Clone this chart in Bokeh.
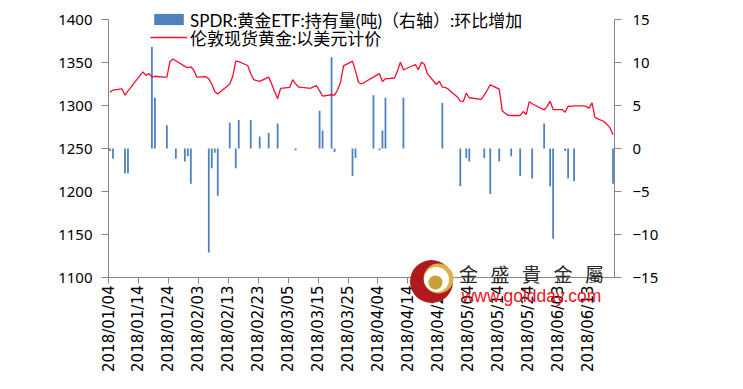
import numpy as np
import pandas as pd
from bokeh.plotting import figure
from bokeh.core.properties import value
from bokeh.models import (ColumnDataSource, Range1d, LinearAxis, FixedTicker,
                          DatetimeTickFormatter, Legend, LegendItem)
from bokeh.embed import file_html
from bokeh.resources import INLINE

# ---------------- data ----------------
gold_dates = [
    "2018-01-04", "2018-01-05", "2018-01-08", "2018-01-09", "2018-01-10", "2018-01-11", "2018-01-12",
    "2018-01-15", "2018-01-16", "2018-01-17", "2018-01-18", "2018-01-19", "2018-01-22", "2018-01-23",
    "2018-01-24", "2018-01-25", "2018-01-26", "2018-01-29", "2018-01-30", "2018-01-31",
    "2018-02-01", "2018-02-02", "2018-02-05", "2018-02-06", "2018-02-07", "2018-02-08", "2018-02-09",
    "2018-02-12", "2018-02-13", "2018-02-14", "2018-02-15", "2018-02-16", "2018-02-19", "2018-02-20",
    "2018-02-21", "2018-02-22", "2018-02-23", "2018-02-26", "2018-02-27", "2018-02-28",
    "2018-03-01", "2018-03-02", "2018-03-05", "2018-03-06", "2018-03-07", "2018-03-08", "2018-03-09",
    "2018-03-12", "2018-03-13", "2018-03-14", "2018-03-15", "2018-03-16", "2018-03-19", "2018-03-20",
    "2018-03-21", "2018-03-22", "2018-03-23", "2018-03-26", "2018-03-27", "2018-03-28", "2018-03-29",
    "2018-04-03", "2018-04-04", "2018-04-05", "2018-04-06", "2018-04-09", "2018-04-10", "2018-04-11",
    "2018-04-12", "2018-04-13", "2018-04-16", "2018-04-17", "2018-04-18", "2018-04-19", "2018-04-20",
    "2018-04-23", "2018-04-24", "2018-04-25", "2018-04-26", "2018-04-27", "2018-04-30",
    "2018-05-01", "2018-05-02", "2018-05-03", "2018-05-04", "2018-05-08", "2018-05-09", "2018-05-10",
    "2018-05-11", "2018-05-14", "2018-05-15", "2018-05-16", "2018-05-17", "2018-05-18", "2018-05-21",
    "2018-05-22", "2018-05-23", "2018-05-24", "2018-05-25", "2018-05-29", "2018-05-30", "2018-05-31",
    "2018-06-01", "2018-06-04", "2018-06-05", "2018-06-06", "2018-06-07", "2018-06-08", "2018-06-11",
    "2018-06-12", "2018-06-13", "2018-06-14", "2018-06-15", "2018-06-18", "2018-06-19", "2018-06-20",
    "2018-06-21",
]
gold_price = [
    1315.5, 1318, 1319.4, 1312, 1317, 1321, 1326,
    1339, 1335, 1337, 1333, 1334, 1333, 1333,
    1351, 1354, 1352, 1345.5, 1344, 1345,
    1341, 1333, 1333.5, 1331, 1325, 1316, 1313.5,
    1322, 1325, 1334, 1351.6, 1351, 1346.5, 1337,
    1330, 1329, 1328, 1333, 1325, 1316,
    1308, 1320, 1321, 1330, 1325, 1321.5, 1321,
    1320, 1322, 1323, 1317, 1311, 1312.5, 1312,
    1318, 1327, 1346, 1351.6, 1340, 1327, 1325,
    1335, 1337, 1328, 1331, 1332, 1340, 1350.4,
    1341.5, 1343, 1347.7, 1341.5, 1350.4, 1348, 1337,
    1324.4, 1328.3, 1321.3, 1321, 1319, 1310,
    1305, 1304.7, 1314.3, 1309, 1307, 1312, 1318,
    1324, 1319, 1294, 1291, 1288.5, 1288.4, 1288.4,
    1293, 1289.5, 1304.3, 1302, 1295, 1299, 1305,
    1295.3, 1295.3, 1292.2, 1299.2, 1299, 1299.5, 1299.6,
    1299, 1297, 1303, 1286, 1281.4, 1278, 1274,
    1266,
]

etf_dates = [
    "2018-01-04", "2018-01-05", "2018-01-09", "2018-01-10", "2018-01-18", "2018-01-19", "2018-01-23",
    "2018-01-26", "2018-01-29", "2018-01-30", "2018-01-31", "2018-02-06", "2018-02-07", "2018-02-08",
    "2018-02-09", "2018-02-13", "2018-02-15", "2018-02-16", "2018-02-20", "2018-02-23", "2018-02-26",
    "2018-03-01", "2018-03-07", "2018-03-15", "2018-03-16", "2018-03-19", "2018-03-20", "2018-03-26",
    "2018-03-27", "2018-04-02", "2018-04-04", "2018-04-05", "2018-04-06", "2018-04-12", "2018-04-25",
    "2018-05-01", "2018-05-03", "2018-05-04", "2018-05-09", "2018-05-11", "2018-05-14", "2018-05-18",
    "2018-05-21", "2018-05-25", "2018-05-29", "2018-05-31", "2018-06-01", "2018-06-05", "2018-06-06",
    "2018-06-08", "2018-06-21",
]
etf_change = [
    -0.3, -1.2, -2.9, -2.9, 11.8, 5.9, 2.7,
    -1.2, -1.5, -0.9, -4.1, -12.1, -2.3, -0.5,
    -5.5, 3.0, -2.3, 3.3, 3.3, 1.4, 1.8,
    2.9, -0.2, 4.4, 2.1, 10.6, -0.4, -3.2,
    -1.1, 6.2, -0.2, 2.1, 5.9, 5.9, 5.3,
    -4.4, -1.1, -1.5, -1.1, -5.3, -1.5, -0.9,
    -3.2, -3.5, 2.9, -4.4, -10.5, -0.3, -3.5,
    -3.8, -4.1,
]

tick_dates = ["2018-01-04", "2018-01-14", "2018-01-24", "2018-02-03", "2018-02-13", "2018-02-23",
              "2018-03-05", "2018-03-15", "2018-03-25", "2018-04-04", "2018-04-14", "2018-04-24",
              "2018-05-04", "2018-05-14", "2018-05-24", "2018-06-03", "2018-06-13"]
left_ticks = [1100, 1150, 1200, 1250, 1300, 1350, 1400]
right_ticks = [-15, -10, -5, 0, 5, 10, 15]

label_bar = "SPDR:黄金ETF:持有量(吨)（右轴）:环比增加"
label_line = "伦敦现货黄金:以美元计价"
brand_chars = list("金盛貴金屬")
brand_url = ["www.goldday.com"]

# ---------------- layout constants (pixels) ----------------
W, H = 743, 389
FRAME_L, FRAME_R = 108, 614
FRAME_T, FRAME_B = 2, 277          # frame is taller than the axes at the top (room for legend)
AX_T = 19                          # where 1400 / 15 sit

left_lo, left_hi = 1100, 1400
right_lo, right_hi = -15, 15
ppu_l = (FRAME_B - AX_T) / (left_hi - left_lo)
ppu_r = (FRAME_B - AX_T) / (right_hi - right_lo)

# ---------------- build ----------------
DAY = 86400000.0
half_day = pd.Timedelta(hours=12)
gold_src = ColumnDataSource(dict(date=pd.to_datetime(gold_dates) + half_day, price=gold_price))
etf_src = ColumnDataSource(dict(date=pd.to_datetime(etf_dates) + half_day, chg=etf_change))

x_start = pd.Timestamp("2018-01-04")
x_end = pd.Timestamp("2018-06-22")
y_top = left_hi + (AX_T - FRAME_T) / ppu_l

p = figure(width=W, height=H, x_axis_type="datetime",
           x_range=Range1d(x_start, x_end), y_range=Range1d(left_lo, y_top),
           output_backend="svg", toolbar_location=None,
           min_border_left=FRAME_L, min_border_right=W - FRAME_R,
           min_border_top=FRAME_T, min_border_bottom=H - FRAME_B)
p.extra_y_ranges = {"etf": Range1d(right_lo, right_hi + (AX_T - FRAME_T) / ppu_r)}
p.outline_line_color = None
p.xgrid.visible = False
p.ygrid.visible = False
p.background_fill_color = "white"
p.border_fill_color = "white"

bars = p.vbar(x="date", top="chg", bottom=0, width=0.6 * DAY, source=etf_src,
              y_range_name="etf", fill_color="#4F81BD", line_color=None)
line = p.line(x="date", y="price", source=gold_src, line_color="#F0102E", line_width=1.3)

AX = "#868686"


def style(ax, font="Noto Sans", size="15px"):
    ax.axis_line_color = AX
    ax.major_tick_line_color = AX
    ax.minor_tick_line_color = None
    ax.major_tick_in = 0
    ax.major_tick_out = 7
    ax.major_label_text_font = font
    ax.major_label_text_font_size = size
    ax.major_label_text_color = "#000000"


yl = p.yaxis[0]
yl.ticker = FixedTicker(ticks=left_ticks)
yl.bounds = (left_lo, left_hi)
style(yl)
yl.major_label_standoff = 9

yr = LinearAxis(y_range_name="etf", ticker=FixedTicker(ticks=right_ticks), bounds=(right_lo, right_hi))
style(yr)
yr.major_label_standoff = 11
p.add_layout(yr, "right")

xa = p.xaxis[0]
xa.ticker = FixedTicker(ticks=[pd.Timestamp(d).value / 1e6 for d in tick_dates])
fmt = "%Y/%m/%d"
xa.formatter = DatetimeTickFormatter(milliseconds=fmt, seconds=fmt, minsec=fmt, minutes=fmt,
                                     hourmin=fmt, hours=fmt, days=fmt, months=fmt, years=fmt)
style(xa, font="DejaVu Sans", size="15px")
xa.major_tick_out = 6
xa.major_label_orientation = np.pi / 2
xa.major_label_standoff = 2

# ---------------- legends (one per row) ----------------
ROW_H = 26


def make_legend(label, renderer, row_center):
    lg = Legend(items=[LegendItem(label=label, renderers=[renderer])],
                location=(42, FRAME_B - row_center - ROW_H / 2), orientation="vertical")
    lg.label_text_font = "Lato, 'Noto Sans CJK SC'"
    lg.label_text_font_size = "17px"
    lg.label_text_color = "#000000"
    lg.label_height = ROW_H
    lg.glyph_height = 14
    lg.glyph_width = 37
    lg.label_standoff = 3
    lg.spacing = 0
    lg.padding = 0
    lg.margin = 0
    lg.border_line_color = None
    lg.background_fill_alpha = 0
    return lg


p.add_layout(make_legend(label_bar, bars, 19), "center")
p.add_layout(make_legend(label_line, line, 37), "center")

# ---------------- watermark (overlay level, placed from pixel layout) ----------------
ms_per_px = (x_end - x_start).value / 1e6 / (FRAME_R - FRAME_L)


def wx(px):
    return x_start.value / 1e6 + (px - FRAME_L) * ms_per_px


def wy(py):
    return left_hi - (py - AX_T) / ppu_l


logo = ColumnDataSource(dict(x=[wx(431), wx(438), wx(436), wx(435)],
                             y=[wy(281), wy(278), wy(279), wy(282)],
                             r=[21.5, 15, 12.5, 7],
                             c=["#B01A1E", "#D9B24A", "white", "#C9A035"]))
p.circle(x="x", y="y", radius="r", radius_units="screen", source=logo,
         fill_color="c", line_color=None, level="overlay")

chars = ColumnDataSource(dict(x=[wx(468 + i * 31.5) for i in range(len(brand_chars))],
                              y=[wy(272.5)] * len(brand_chars), t=brand_chars))
p.text(x="x", y="y", text="t", source=chars, text_font=value("Noto Sans CJK TC"),
       text_font_size="19px", text_color="#2b2b2b", text_align="center",
       text_baseline="middle", level="overlay")

url = ColumnDataSource(dict(x=[wx(531)], y=[wy(295)], t=brand_url))
p.text(x="x", y="y", text="t", source=url, text_font=value("Liberation Sans"),
       text_font_size="17.5px", text_color="#E8141E", text_align="center",
       text_baseline="alphabetic", level="overlay")

open("out.html", "w").write(file_html(p, INLINE))
